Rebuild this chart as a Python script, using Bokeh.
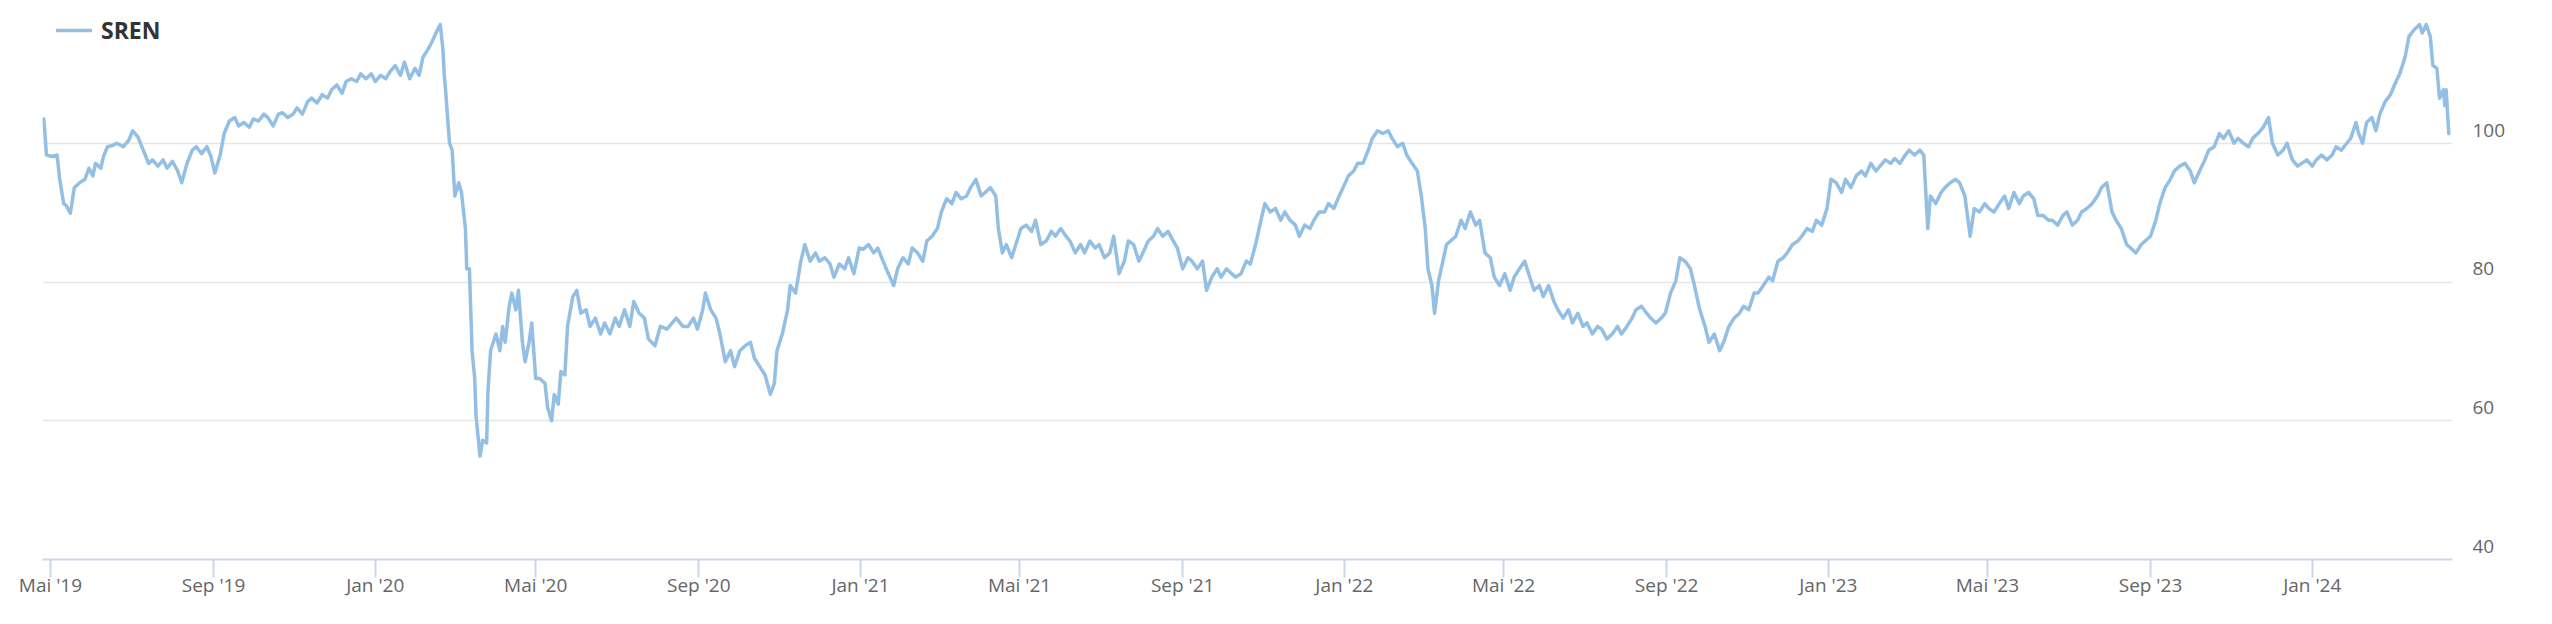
import pandas as pd
from datetime import datetime
from bokeh.plotting import figure
from bokeh.models import (Range1d, FixedTicker, Legend, LegendItem, ColumnDataSource,
                          LinearAxis)
from bokeh.embed import file_html
from bokeh.resources import INLINE

series_name = "SREN"
start_date = "2019-04-26"

day_offsets = [
    0, 2, 6, 10, 12, 15, 17, 20, 23, 27, 31, 34, 37, 39, 43, 45, 48, 52, 55, 60,
    64, 67, 71, 75, 79, 82, 86, 90, 93, 97, 101, 104, 108, 112, 115, 119, 123, 126, 129, 133,
    136, 140, 144, 147, 151, 155, 158, 162, 166, 169, 173, 177, 180, 184, 188, 191, 195, 199, 202, 206,
    210, 214, 217, 221, 225, 228, 232, 236, 239, 243, 247, 250, 254, 258, 261, 265, 269, 272, 276, 280,
    283, 286, 290, 293, 297, 299, 301, 302, 303, 306, 308, 310, 313, 315, 318, 319, 321, 323, 325, 326,
    329, 331, 334, 335, 337, 341, 344, 346, 348, 351, 353, 356, 358, 361, 363, 366, 368, 371, 374, 378,
    380, 383, 385, 388, 390, 393, 395, 399, 402, 405, 409, 412, 416, 420, 423, 427, 431, 434, 438, 442,
    445, 449, 453, 456, 461, 465, 470, 474, 477, 482, 486, 490, 493, 497, 499, 503, 507, 510, 514, 518,
    521, 525, 529, 533, 536, 540, 544, 548, 551, 553, 557, 561, 563, 567, 571, 574, 578, 582, 585, 589,
    593, 596, 600, 604, 607, 611, 615, 618, 622, 626, 629, 633, 637, 641, 644, 648, 652, 655, 659, 663,
    666, 670, 674, 677, 681, 685, 688, 692, 696, 699, 703, 707, 710, 714, 718, 720, 723, 726, 730, 734,
    737, 741, 745, 748, 752, 756, 760, 763, 767, 771, 774, 778, 782, 785, 789, 793, 796, 800, 804, 807,
    811, 815, 818, 822, 826, 829, 833, 837, 840, 844, 848, 852, 855, 859, 863, 866, 870, 874, 877, 881,
    885, 888, 892, 896, 899, 903, 907, 910, 914, 918, 921, 925, 929, 933, 936, 940, 944, 947, 951, 955,
    958, 962, 966, 969, 973, 977, 980, 984, 988, 991, 995, 999, 1002, 1006, 1010, 1014, 1017, 1021, 1025, 1028,
    1032, 1036, 1039, 1042, 1044, 1047, 1049, 1052, 1054, 1058, 1061, 1065, 1069, 1072, 1076, 1080, 1083, 1087, 1091, 1094,
    1098, 1102, 1106, 1109, 1113, 1117, 1120, 1124, 1128, 1131, 1135, 1139, 1142, 1146, 1150, 1153, 1157, 1161, 1164, 1168,
    1172, 1175, 1179, 1183, 1187, 1190, 1194, 1198, 1201, 1205, 1209, 1212, 1216, 1220, 1223, 1227, 1231, 1234, 1238, 1242,
    1245, 1249, 1253, 1256, 1260, 1264, 1267, 1271, 1275, 1279, 1282, 1286, 1290, 1293, 1297, 1301, 1304, 1308, 1312, 1315,
    1319, 1323, 1326, 1330, 1334, 1337, 1341, 1345, 1348, 1352, 1356, 1359, 1363, 1367, 1371, 1374, 1378, 1382, 1385, 1389,
    1393, 1396, 1400, 1404, 1407, 1411, 1415, 1418, 1421, 1423, 1427, 1431, 1434, 1438, 1442, 1445, 1449, 1453, 1456, 1460,
    1464, 1467, 1471, 1475, 1479, 1482, 1486, 1490, 1493, 1497, 1501, 1504, 1508, 1512, 1515, 1519, 1523, 1526, 1530, 1534,
    1537, 1541, 1545, 1549, 1552, 1556, 1560, 1563, 1567, 1571, 1574, 1578, 1582, 1585, 1589, 1593, 1596, 1600, 1604, 1607,
    1611, 1615, 1619, 1622, 1626, 1630, 1633, 1637, 1641, 1644, 1648, 1652, 1655, 1659, 1663, 1666, 1670, 1674, 1678, 1681,
    1685, 1689, 1692, 1696, 1700, 1703, 1707, 1711, 1714, 1718, 1722, 1726, 1729, 1733, 1737, 1740, 1744, 1746, 1749, 1752,
    1756, 1759, 1762, 1766, 1770, 1773, 1777, 1781, 1784, 1788, 1792, 1794, 1797, 1800, 1802, 1805, 1807, 1810, 1811, 1812,
    1814,
]

values = [
    103.5, 98.3, 98.1, 98.3, 94.8, 91.3, 91.0, 89.9, 93.6, 94.3, 94.8, 96.4, 95.3, 97.1, 96.4, 98.1, 99.5, 99.7, 100.0, 99.5,
    100.4, 101.8, 100.9, 99.0, 97.1, 97.6, 96.7, 97.6, 96.4, 97.4, 96.0, 94.3, 97.1, 99.0, 99.5, 98.5, 99.5, 98.1, 95.7, 98.3,
    101.4, 103.2, 103.7, 102.5, 103.0, 102.3, 103.5, 103.2, 104.2, 103.7, 102.5, 104.2, 104.4, 103.7, 104.2, 105.1, 104.2, 106.0, 106.5, 105.8,
    107.0, 106.5, 107.7, 108.4, 107.2, 108.9, 109.3, 108.9, 110.0, 109.3, 110.0, 108.9, 109.8, 109.3, 110.3, 111.2, 109.8, 111.7, 109.3, 110.8,
    109.8, 112.4, 113.6, 114.7, 116.4, 117.1, 113.6, 110.0, 107.7, 100.0, 99.0, 92.4, 94.3, 92.9, 87.7, 81.9, 81.9, 70.1, 66.1, 60.7,
    54.9, 57.2, 56.8, 64.3, 70.1, 72.5, 70.1, 73.6, 71.3, 76.5, 78.4, 76.0, 78.8, 71.3, 68.5, 71.3, 74.1, 66.1, 66.1, 65.4,
    61.9, 60.0, 63.8, 62.4, 67.1, 66.6, 73.6, 77.9, 78.8, 75.5, 76.0, 73.6, 74.8, 72.5, 74.1, 72.5, 74.8, 73.6, 76.0, 73.6,
    77.2, 75.5, 74.8, 71.8, 70.8, 73.6, 73.2, 74.1, 74.8, 73.6, 73.6, 74.8, 73.2, 76.0, 78.4, 76.0, 74.8, 72.5, 68.5, 70.1,
    67.8, 70.1, 70.8, 71.3, 69.0, 67.8, 66.6, 63.8, 65.4, 70.1, 72.5, 76.0, 79.5, 78.4, 83.0, 85.4, 83.0, 84.2, 83.0, 83.5,
    82.6, 80.7, 82.6, 81.9, 83.5, 81.2, 84.9, 84.7, 85.4, 84.2, 84.9, 83.0, 81.2, 79.5, 81.9, 83.5, 82.6, 84.9, 84.2, 83.0,
    85.9, 86.6, 87.7, 90.1, 92.0, 91.3, 92.9, 92.0, 92.4, 93.6, 94.8, 92.4, 92.9, 93.6, 92.4, 87.7, 84.2, 85.4, 83.5, 85.9,
    87.7, 88.2, 87.3, 88.9, 85.4, 85.9, 87.3, 86.6, 87.7, 86.6, 85.9, 84.2, 85.4, 84.2, 85.9, 84.9, 85.4, 83.5, 84.2, 86.6,
    81.2, 83.0, 85.9, 85.4, 83.0, 84.2, 85.9, 86.6, 87.7, 86.6, 87.3, 85.9, 84.9, 81.9, 83.5, 83.0, 81.9, 83.0, 78.8, 80.7,
    81.9, 80.7, 81.9, 81.2, 80.7, 81.2, 83.0, 82.6, 85.4, 88.9, 91.3, 90.1, 90.6, 88.9, 90.1, 88.9, 88.2, 86.6, 88.2, 87.7,
    88.9, 90.1, 90.1, 91.3, 90.6, 92.4, 93.6, 95.3, 96.0, 97.1, 97.1, 99.0, 100.7, 101.8, 101.4, 101.8, 100.7, 99.5, 100.0, 98.3,
    97.1, 96.0, 92.4, 87.7, 81.9, 79.5, 75.5, 80.2, 81.9, 85.4, 85.9, 86.6, 88.9, 87.7, 90.1, 88.2, 88.9, 84.2, 83.5, 80.7,
    79.5, 81.2, 78.8, 80.7, 81.9, 83.0, 81.2, 78.8, 79.5, 77.9, 79.5, 77.2, 76.0, 74.8, 76.0, 74.1, 75.5, 73.6, 74.1, 72.5,
    73.6, 73.2, 71.8, 72.5, 73.6, 72.5, 73.6, 74.8, 76.0, 76.5, 75.5, 74.8, 74.1, 74.8, 75.5, 78.4, 80.2, 83.5, 83.0, 81.9,
    79.5, 76.0, 73.6, 71.3, 72.5, 70.1, 71.3, 73.6, 74.8, 75.5, 76.5, 76.0, 78.4, 78.4, 79.5, 80.7, 80.2, 83.0, 83.5, 84.2,
    85.4, 85.9, 86.6, 87.7, 87.3, 88.9, 88.2, 90.6, 94.8, 94.3, 92.9, 94.8, 93.6, 95.3, 96.0, 95.3, 97.1, 96.0, 96.7, 97.6,
    97.1, 97.8, 97.1, 98.3, 99.0, 98.3, 99.0, 98.3, 87.7, 92.4, 91.3, 92.9, 93.6, 94.3, 94.8, 94.3, 92.4, 86.6, 90.6, 90.1,
    91.3, 90.6, 90.1, 91.3, 92.4, 90.6, 92.9, 91.3, 92.4, 92.9, 92.0, 89.6, 89.6, 88.9, 88.9, 88.2, 89.6, 90.1, 88.2, 88.9,
    90.1, 90.6, 91.3, 92.4, 93.6, 94.3, 90.1, 88.9, 87.7, 85.4, 84.9, 84.2, 85.4, 85.9, 86.6, 88.9, 91.3, 93.6, 94.8, 96.0,
    96.7, 97.1, 96.0, 94.3, 96.0, 97.6, 99.0, 99.5, 101.4, 100.7, 101.8, 100.0, 100.7, 100.0, 99.5, 100.7, 101.4, 102.3, 103.7, 100.0,
    98.3, 99.0, 100.0, 97.6, 96.7, 97.1, 97.6, 96.7, 97.6, 98.3, 97.6, 98.3, 99.5, 99.0, 100.0, 100.7, 103.0, 101.4, 100.0, 103.0,
    103.7, 101.8, 104.2, 106.0, 107.0, 108.4, 110.0, 112.4, 115.4, 116.4, 117.1, 115.9, 117.1, 115.4, 111.2, 110.8, 106.5, 107.7, 105.4, 107.7,
    101.4,
]

x_tick_dates = [
    "2019-05-01", "2019-09-01", "2020-01-01", "2020-05-01", "2020-09-01",
    "2021-01-01", "2021-05-01", "2021-09-01", "2022-01-01", "2022-05-01",
    "2022-09-01", "2023-01-01", "2023-05-01", "2023-09-01", "2024-01-01",
]
x_tick_labels = [
    "Mai '19", "Sep '19", "Jan '20", "Mai '20", "Sep '20",
    "Jan '21", "Mai '21", "Sep '21", "Jan '22", "Mai '22",
    "Sep '22", "Jan '23", "Mai '23", "Sep '23", "Jan '24",
]
y_ticks = [40, 60, 80, 100, 120]

dates = pd.Timestamp(start_date) + pd.to_timedelta(day_offsets, unit="D")
src = ColumnDataSource(dict(date=dates, value=values))

Y_MIN, Y_MAX = 40, 120
p = figure(
    width=2540, height=610,
    x_axis_type="datetime", y_axis_location=None,
    x_range=Range1d(datetime(2019, 4, 25), datetime(2024, 4, 15, 19)),
    y_range=Range1d(Y_MIN, Y_MAX),
    output_backend="svg", toolbar_location=None,
    min_border_left=42, min_border_right=88, min_border_top=4, min_border_bottom=51,
)
p.outline_line_color = None
p.background_fill_color = "white"
p.border_fill_color = "white"

# horizontal grid lines at the y ticks only
p.ygrid.ticker = FixedTicker(ticks=y_ticks)
p.ygrid.grid_line_color = "#e6e6e6"
p.ygrid.grid_line_width = 1.5
p.xgrid.grid_line_color = None

# labels sit a little above their grid lines (as in the original): a label range
# shifted by ~13 px worth of units
label_shift = 1.9
p.extra_y_ranges = {"labels": Range1d(Y_MIN - label_shift, Y_MAX - label_shift)}

line_color = "#92bfe3"
r = p.line("date", "value", source=src, line_color=line_color, line_width=3.5,
           line_join="round", line_cap="round")

# x axis
x_ms = [int(pd.Timestamp(d).value // 10**6) for d in x_tick_dates]
p.xaxis.ticker = FixedTicker(ticks=x_ms)
p.xaxis.major_label_overrides = {m: lab for m, lab in zip(x_ms, x_tick_labels)}
p.xaxis.axis_line_color = "#ccd6eb"
p.xaxis.axis_line_width = 2
p.xaxis.major_tick_line_color = "#ccd6eb"
p.xaxis.major_tick_line_width = 2
p.xaxis.major_tick_in = 0
p.xaxis.major_tick_out = 18
p.xaxis.minor_tick_line_color = None
p.xaxis.major_label_standoff = -6
p.xaxis.major_label_text_font = "Open Sans"
p.xaxis.major_label_text_font_size = "19px"
p.xaxis.major_label_text_color = "#666666"

# y axis (right)
yaxis = LinearAxis(
    y_range_name="labels", ticker=FixedTicker(ticks=y_ticks),
    axis_line_color=None, major_tick_line_color=None, minor_tick_line_color=None,
    major_tick_in=0, major_tick_out=0, major_label_standoff=20,
    major_label_text_font="Open Sans", major_label_text_font_size="19px",
    major_label_text_color="#666666",
)
p.add_layout(yaxis, "right")

legend = Legend(
    items=[LegendItem(label=series_name, renderers=[r])],
    location=(14, 513),
    label_text_font="Open Sans", label_text_font_style="bold",
    label_text_font_size="23px", label_text_color="#333333",
    glyph_width=36, glyph_height=20, label_standoff=9,
    padding=0, margin=0, spacing=0,
    border_line_color=None, background_fill_alpha=0,
)
p.add_layout(legend)

open("out.html", "w").write(file_html(p, INLINE))
